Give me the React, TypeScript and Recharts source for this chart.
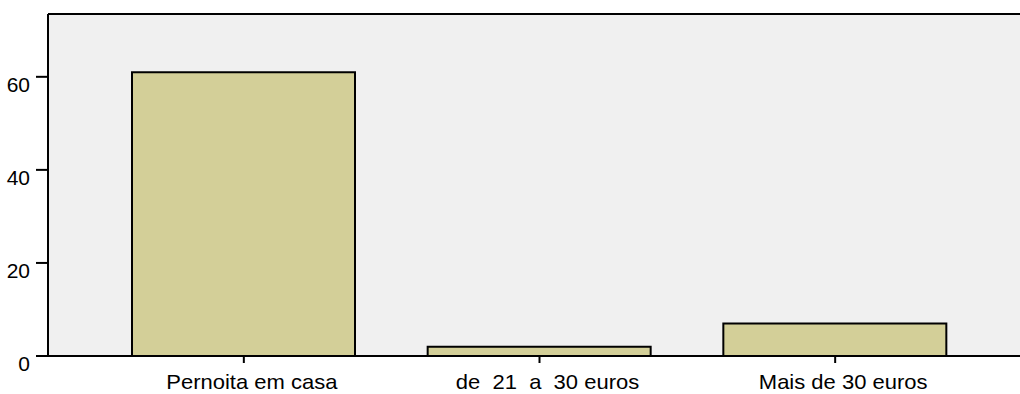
import React from 'react';
import { BarChart, Bar, XAxis, YAxis, CartesianGrid, ReferenceLine } from 'recharts';

const categories = ['Pernoita em casa', 'de  21  a  30 euros', 'Mais de 30 euros'];
const counts = [61, 2, 7];
const yTicks = [0, 20, 40, 60];
const yMax = 73.5;

const data = categories.map((c, i) => ({ name: c, value: counts[i] }));

const FONT = '"Liberation Sans", Arial, sans-serif';

const XTick = (props: any) => {
  const { x, y, payload } = props;
  return (
    <g transform={`translate(${x + 8},${y + 26}) scale(1.1,1)`}>
      <text x={0} y={0} textAnchor="middle" fontFamily={FONT} fontSize={20} fill="#000" style={{ whiteSpace: 'pre' }}>
        {payload.value}
      </text>
    </g>
  );
};

const YTick = (props: any) => {
  const { x, y, payload } = props;
  return (
    <g transform={`translate(${x - 6},${y + 15}) scale(1.05,1)`}>
      <text x={0} y={0} textAnchor="end" fontFamily={FONT} fontSize={20} fill="#000">
        {payload.value}
      </text>
    </g>
  );
};

export default function App() {
  return (
    <div style={{ position: 'absolute', left: 0, top: 0, width: 1020, height: 394, background: '#fff' }}>
      <BarChart width={1020} height={394} data={data} margin={{ top: 14, right: 0, bottom: 0, left: 0 }} barSize={223}>
        <CartesianGrid fill="#f0f0f0" horizontal={false} vertical={false} />
        <XAxis
          dataKey="name"
          height={38}
          tickSize={7}
          tickMargin={0}
          padding={{ left: 48, right: 37 }}
          axisLine={{ stroke: '#000', strokeWidth: 2 }}
          tickLine={{ stroke: '#000', strokeWidth: 2 }}
          tick={<XTick />}
          interval={0}
        />
        <YAxis
          width={48}
          domain={[0, yMax]}
          ticks={yTicks}
          tickSize={12}
          tickMargin={0}
          axisLine={{ stroke: '#000', strokeWidth: 2 }}
          tickLine={{ stroke: '#000', strokeWidth: 2 }}
          tick={<YTick />}
          allowDataOverflow
        />
        <ReferenceLine y={yMax} stroke="#000" strokeWidth={2} />
        <Bar dataKey="value" fill="#d3cf98" stroke="#000" strokeWidth={2} isAnimationActive={false} />
      </BarChart>
    </div>
  );
}
